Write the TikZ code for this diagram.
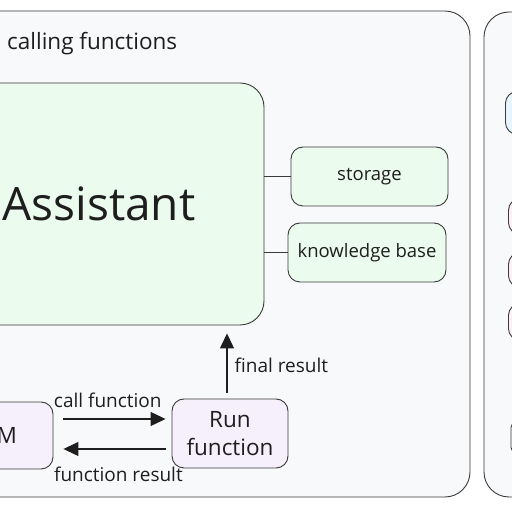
\documentclass[tikz,border=0pt]{standalone}
\usepackage{fontspec}
\setmainfont{Open Sans}
\usetikzlibrary{arrows.meta}
\usetikzlibrary{shapes}
\definecolor{panelFill}{HTML}{F8F9FA}
\definecolor{lineGray}{HTML}{3A3A3A}
\definecolor{greenFill}{HTML}{EBFBEE}
\definecolor{purpleFill}{HTML}{F6EFFC}
\definecolor{pinkFill}{HTML}{FCEFF5}
\definecolor{blueFill}{HTML}{E7F5FF}
\definecolor{textBlack}{HTML}{1E1E1E}

\begin{document}
\begin{tikzpicture}[x = 1pt, y = -1pt, text = textBlack]
	\tikzstyle{panelStyle} = [draw = lineGray, fill = panelFill, rounded corners = 25pt, line width = 0.9pt]
	\tikzstyle{boxStyle} = [shape = rectangle, draw = lineGray, line width = 0.9pt, rounded corners = 12pt, align = center, inner sep = 0pt]
	\tikzstyle{greenStyle} = [boxStyle, fill = greenFill]
	\tikzstyle{purpleStyle} = [boxStyle, fill = purpleFill]
	\tikzstyle{pinkStyle} = [boxStyle, fill = pinkFill, minimum width = 120pt]
	\tikzstyle{arrowStyle} = [draw = textBlack, line width = 1.2pt, -{Triangle[length = 15pt, width = 14pt]}]
	\tikzstyle{labelStyle} = [inner sep = 0pt, font = \fontsize{19}{22}\selectfont]
	\useasboundingbox (0,0) rectangle (512,510);
	\clip (0,0) rectangle (512,510);
	\fill[white] (0,0) rectangle (512,510);
	% panels
	\draw[panelStyle] (-40,11) rectangle (470,497);
	\draw[panelStyle] (484,12) rectangle (620,497);
	\node[labelStyle, anchor = west, font = \fontsize{22.5}{26}\selectfont] (title) at (7,44) {calling functions};
	% assistant and its parts
	\node[greenStyle, minimum width = 330pt, minimum height = 242pt, rounded corners = 24pt, font = \fontsize{46}{50}\selectfont] (assistant) at (99,204) {Assistant};
	\node[greenStyle, minimum width = 157pt, minimum height = 59pt, font = \fontsize{18.5}{21}\selectfont] (storage) at (369.5,176.5) {storage};
	\node[greenStyle, minimum width = 158pt, minimum height = 59pt, font = \fontsize{18.5}{21}\selectfont] (kb) at (367,252.5) {knowledge base};
	\draw[draw = lineGray, line width = 0.9pt] (assistant.east |- storage.west) -- (storage.west);
	\draw[draw = lineGray, line width = 0.9pt] (assistant.east |- kb.west) -- (kb.west);
	% function loop
	\node[purpleStyle, minimum width = 116pt, minimum height = 67pt, font = \fontsize{22.5}{28}\selectfont] (llm) at (-5,435.5) {LLM};
	\node[purpleStyle, minimum width = 116pt, minimum height = 69pt, font = \fontsize{22.5}{28}\selectfont] (run) at (230,433.5) {Run\\function};
	\draw[arrowStyle, shorten <= 10pt, shorten >= 6pt] ([yshift = 16.5pt]llm.east) -- ([yshift = 16.5pt]llm.east -| run.west)
		node[labelStyle, pos = 0.46, above = 11pt] (lblCall) {call function};
	\draw[arrowStyle, shorten <= 6pt, shorten >= 10pt] ([yshift = -13.5pt]llm.east -| run.west) -- ([yshift = -13.5pt]llm.east)
		node[labelStyle, pos = 0.45, below = 17pt] (lblResult) {function result};
	\draw[arrowStyle, shorten <= 6pt, shorten >= 8pt] ([xshift = -3pt]run.north) -- ([xshift = -3pt]run.north |- assistant.south)
		node[labelStyle, pos = 0.45, right = 7pt] (lblFinal) {final result};
	% next panel
	\node[boxStyle, fill = blueFill, minimum width = 120pt, minimum height = 43pt, anchor = north west] (b0) at (505,91) {};
	\node[pinkStyle, minimum height = 36pt, anchor = north west] (p0) at (508,198) {};
	\node[pinkStyle, minimum height = 35pt, anchor = north west] (p1) at (508,252) {};
	\node[pinkStyle, minimum height = 37pt, anchor = north west] (p2) at (508,303) {};
	\node[boxStyle, rounded corners = 4pt, minimum width = 120pt, minimum height = 28pt, anchor = north west] (g0) at (510.5,423) {};
\end{tikzpicture}
\end{document}
